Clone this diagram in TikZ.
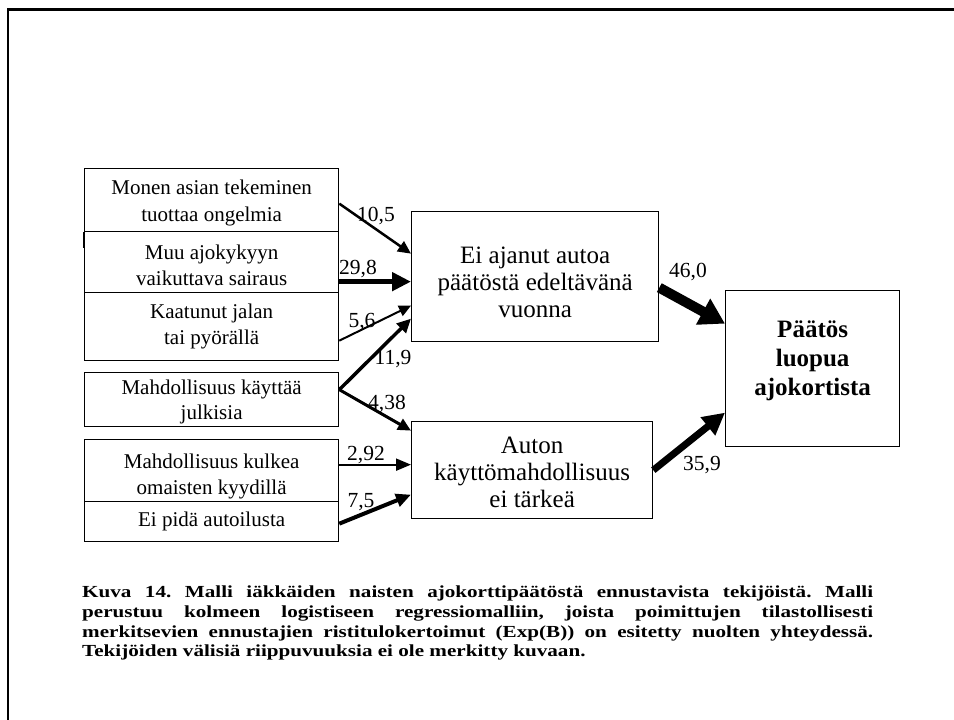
\documentclass[tikz,border=0pt]{standalone}
\usepackage{fontspec}
\setmainfont{Liberation Serif}
\newfontfamily\capfont{Liberation Serif}[FakeStretch=1.25]
\usetikzlibrary{arrows.meta}
\begin{document}
\begin{tikzpicture}[x=1pt,y=-1pt,
  box/.style={draw, line width=1.3pt, align=center, inner sep=0pt, anchor=north west},
  lft/.style={box, minimum width=254pt, font=\fontsize{21}{26.5}\selectfont},
  mid/.style={box, font=\fontsize{25}{27}\selectfont},
  lab/.style={inner sep=0pt, font=\fontsize{21.5}{22}\selectfont},
  captxt/.style={inner sep=0pt, anchor=base west, font=\capfont\fontsize{16.9}{20}\selectfont\bfseries\frenchspacing},
  arr/.style={draw, line width=#1},
]
\useasboundingbox (0,0) rectangle (954,720);
\fill[white] (0,0) rectangle (954,720);
% frame
\draw[line width=2.6pt] (954,9.7) -- (8,9.7) -- (8,720);

% left boxes
\node[lft, minimum height=63pt] (b1) at (84,168) {\rule{0pt}{20.5pt}Monen asian tekeminen\\tuottaa ongelmia};
\node[lft, minimum height=61pt] (b2) at (84,231) {\rule{0pt}{21pt}Muu ajokykyyn\\vaikuttava sairaus};
\node[lft, minimum height=68pt] (b3) at (84,292) {Kaatunut jalan\\tai pyörällä};
\node[lft, minimum height=54pt, font=\fontsize{21}{24.5}\selectfont] (b4) at (84,372) {\rule{0pt}{19pt}Mahdollisuus käyttää\\julkisia};
\node[lft, minimum height=62pt] (b5) at (84,439) {\rule{0pt}{26pt}Mahdollisuus kulkea\\omaisten kyydillä};
\node[lft, minimum height=40pt] (b6) at (84,501) {Ei pidä autoilusta};
\draw[line width=2pt] (b1.south west) -- ++(0,16);

% middle boxes
\node[mid, minimum width=247pt, minimum height=130pt] (m1) at (411,211) {\rule{0pt}{27pt}Ei ajanut autoa\\päätöstä edeltävänä\\vuonna};
\node[mid, minimum width=241pt, minimum height=97pt] (m2) at (411,421) {\rule{0pt}{21pt}Auton\\käyttömahdollisuus\\ei tärkeä};

% right box
\node[box, minimum width=174pt, minimum height=156pt, font=\fontsize{25}{29}\selectfont\bfseries] (r) at (725,290) {Päätös\\luopua\\ajokortista\rule[-21pt]{0pt}{0pt}};

% arrows
\draw[arr=2.5pt, -{Triangle[length=13pt,width=12pt]}] ([yshift=-3.5pt]b1.east) -- ([yshift=23pt]m1.west);
\draw[arr=5pt, -{Triangle[length=19pt,width=18pt]}] ([yshift=-19.5pt]b2.east) -- ([yshift=-5pt]m1.west);
\draw[arr=2pt, -{Triangle[length=12pt,width=11pt]}] ([yshift=-14pt]b3.east) -- ([yshift=-29pt]m1.west);
\draw[arr=3.5pt, -{Triangle[length=14pt,width=13pt]}] ([yshift=10pt]b4.east) -- ([yshift=-42pt]m1.west);
\draw[arr=3pt, -{Triangle[length=13pt,width=12pt]}] ([yshift=10pt]b4.east) -- ([yshift=39.5pt]m2.west);
\draw[arr=2pt, -{Triangle[length=15pt,width=12pt]}] ([yshift=6pt]b5.east) -- ([yshift=5.5pt]m2.west);
\draw[arr=4pt, -{Triangle[length=15pt,width=13pt]}] ([yshift=-2pt]b6.east) -- ([yshift=-24.5pt]m2.west);
\draw[arr=10pt, -{Triangle[length=25pt,width=28pt]}] ([yshift=-11pt]m1.east) -- ([yshift=45pt]r.west);
\draw[arr=7pt, -{Triangle[length=22pt,width=22pt]}] (m2.east) -- ([yshift=-44pt]r.west);

% labels
\node[lab] (l1) at (376,216) {10,5};
\node[lab] (l2) at (358,269) {29,8};
\node[lab] (l3) at (362,322) {5,6};
\node[lab] (l4) at (393,359) {11,9};
\node[lab] (l5) at (387,404) {4,38};
\node[lab] (l6) at (366,455) {2,92};
\node[lab] (l7) at (361,502) {7,5};
\node[lab] (l8) at (688,272) {46,0};
\node[lab] (l9) at (702,465) {35,9};

% caption
\node[captxt] (c1) at (82,597) {\makebox[791pt][s]{Kuva 14. Malli iäkkäiden naisten ajokorttipäätöstä ennustavista tekijöistä. Malli}};
\node[captxt] (c2) at (82,617) {\makebox[791pt][s]{perustuu kolmeen logistiseen regressiomalliin, joista poimittujen tilastollisesti}};
\node[captxt] (c3) at (82,637) {\makebox[791pt][s]{merkitsevien ennustajien ristitulokertoimut (Exp(B)) on esitetty nuolten yhteydessä.}};
\node[captxt] (c4) at (82,656) {Tekijöiden välisiä riippuvuuksia ei ole merkitty kuvaan.};
\end{tikzpicture}
\end{document}
